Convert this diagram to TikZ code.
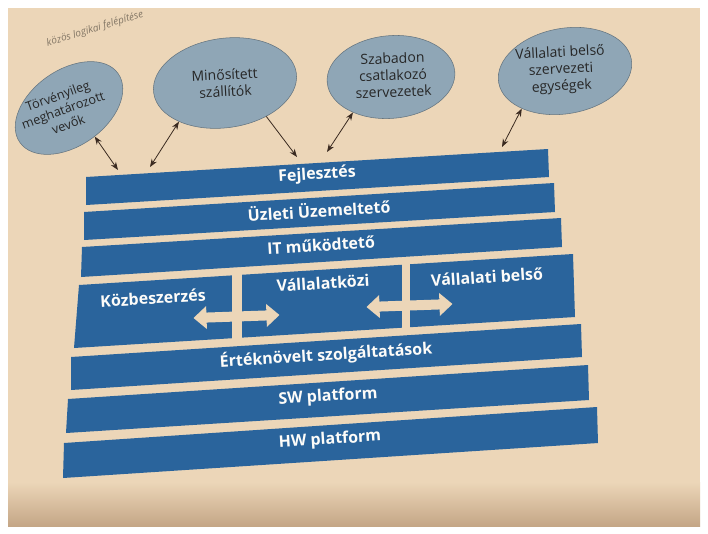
\documentclass[tikz,border=0pt]{standalone}
\usepackage{fontspec}
\setmainfont{Open Sans}
\usetikzlibrary{arrows.meta,shapes.geometric}
\definecolor{paper}{RGB}{236,214,184}
\definecolor{paperdark}{RGB}{196,166,134}
\definecolor{bandblue}{RGB}{42,100,156}
\definecolor{ovalgray}{RGB}{143,166,182}
\definecolor{inkbrown}{RGB}{58,42,32}
\tikzset{>={Stealth[length=6pt,width=4.5pt]}}
\tikzset{
    band/.style={fill=bandblue},
    bandlabel/.style={text=white!92!paper,font=\bfseries\fontsize{12}{14}\selectfont,rotate=3.6,inner sep=0pt},
    oval/.style={ellipse,draw=ovalgray!70!black,fill=ovalgray,line width=0.4pt,inner sep=0pt},
    ovallabel/.style={align=center,text=black!85,font=\fontsize{10.5}{12.6}\selectfont,inner sep=0pt},
    link/.style={draw=inkbrown,line width=0.6pt},
    dblarrow/.pic={\fill[paper] (-43,0) -- (-30,-11.5) -- (-30,-5) -- (30,-5) -- (30,-11.5)
        -- (43,0) -- (30,11.5) -- (30,5) -- (-30,5) -- (-30,11.5) -- cycle;},
}

\begin{document}
\begin{tikzpicture}[x=0.75pt,y=-0.75pt]
        \useasboundingbox (0,0) rectangle (708,533);
        \fill[white] (0,0) rectangle (708,533);
        \fill[paper] (8,8) rectangle (700,526);
        \shade[top color=paper,bottom color=paperdark] (8,482) rectangle (700,526);

        \node[font=\itshape\fontsize{7.5}{9}\selectfont,text=black!45!paper,rotate=17] (figtitle) at (95,29) {közös logikai felépítése};

        % partner groups
        \node[oval,minimum width=90pt,minimum height=57pt,rotate=35] (buyers) at (69,108) {};
        \node[ovallabel,rotate=20,font=\fontsize{9.5}{11.4}\selectfont] (buyerstext) at (63,110) {Törvényileg\\meghatározott\\vevők};
        \node[oval,minimum width=108pt,minimum height=67pt,rotate=8] (suppliers) at (225,83) {};
        \node[ovallabel,rotate=3] (supplierstext) at (225,83) {Minősített\\szállítók};
        \node[oval,minimum width=96pt,minimum height=62pt,rotate=5] (joiners) at (391,77) {};
        \node[ovallabel,rotate=2] (joinerstext) at (393,75) {Szabadon\\csatlakozó\\szervezetek};
        \node[oval,minimum width=101pt,minimum height=64pt,rotate=10] (units) at (565,71) {};
        \node[ovallabel,rotate=3] (unitstext) at (561,70) {Vállalati belső\\szervezeti\\egységek};

        % layers
        \fill[band] (86,177) -- (548,149) -- (549,177) -- (86,205) -- cycle;
        \fill[band] (84,212) -- (554,183) -- (555,212) -- (84,240) -- cycle;
        \fill[band] (82,247) -- (561,218) -- (562,247) -- (81,277) -- cycle;
        \begin{scope}
            \clip (79,285) -- (573,254) -- (575,317) -- (74,348) -- cycle;
            \fill[band] (70,250) rectangle (232,350);
            \fill[band] (242,250) rectangle (402,350);
            \fill[band] (410,250) rectangle (580,350);
        \end{scope}
        \fill[band] (71,357) -- (581,324) -- (582,357) -- (71,390) -- cycle;
        \fill[band] (68,399) -- (588,365) -- (589,400) -- (66,433) -- cycle;
        \fill[band] (64,443) -- (597,407) -- (598,443) -- (63,478) -- cycle;

        \pic[rotate=2] at (236.5,316.5) {dblarrow};
        \pic[rotate=2] at (409.5,305.5) {dblarrow};

        \node[bandlabel] (dev) at (317,175) {Fejlesztés};
        \node[bandlabel] (busop) at (319,210) {Üzleti Üzemeltető};
        \node[bandlabel] (itop) at (321,245) {IT működtető};
        \node[bandlabel] (public) at (153,298) {Közbeszerzés};
        \node[bandlabel] (b2b) at (323,283) {Vállalatközi};
        \node[bandlabel] (internal) at (487,277) {Vállalati belső};
        \node[bandlabel] (vas) at (326,355) {Értéknövelt szolgáltatások};
        \node[bandlabel] (swp) at (328,397) {SW platform};
        \node[bandlabel] (hwp) at (330,440) {HW platform};

        % links to the top layer
        \coordinate (buyersend) at (118,170);
        \coordinate (suppliersend) at (150,167);
        \coordinate (deliveryend) at (297,157);
        \coordinate (joinersend) at (327,152);
        \coordinate (unitsend) at (502,147);
        \draw[link,<->] (buyers.-83) -- (buyersend);
        \draw[link,<->] (suppliers.212) -- (suppliersend);
        \draw[link,->] (suppliers.-47) -- (deliveryend);
        \draw[link,<->] (joiners.218) -- (joinersend);
        \draw[link,<->] (units.211) -- (unitsend);
\end{tikzpicture}
\end{document}
